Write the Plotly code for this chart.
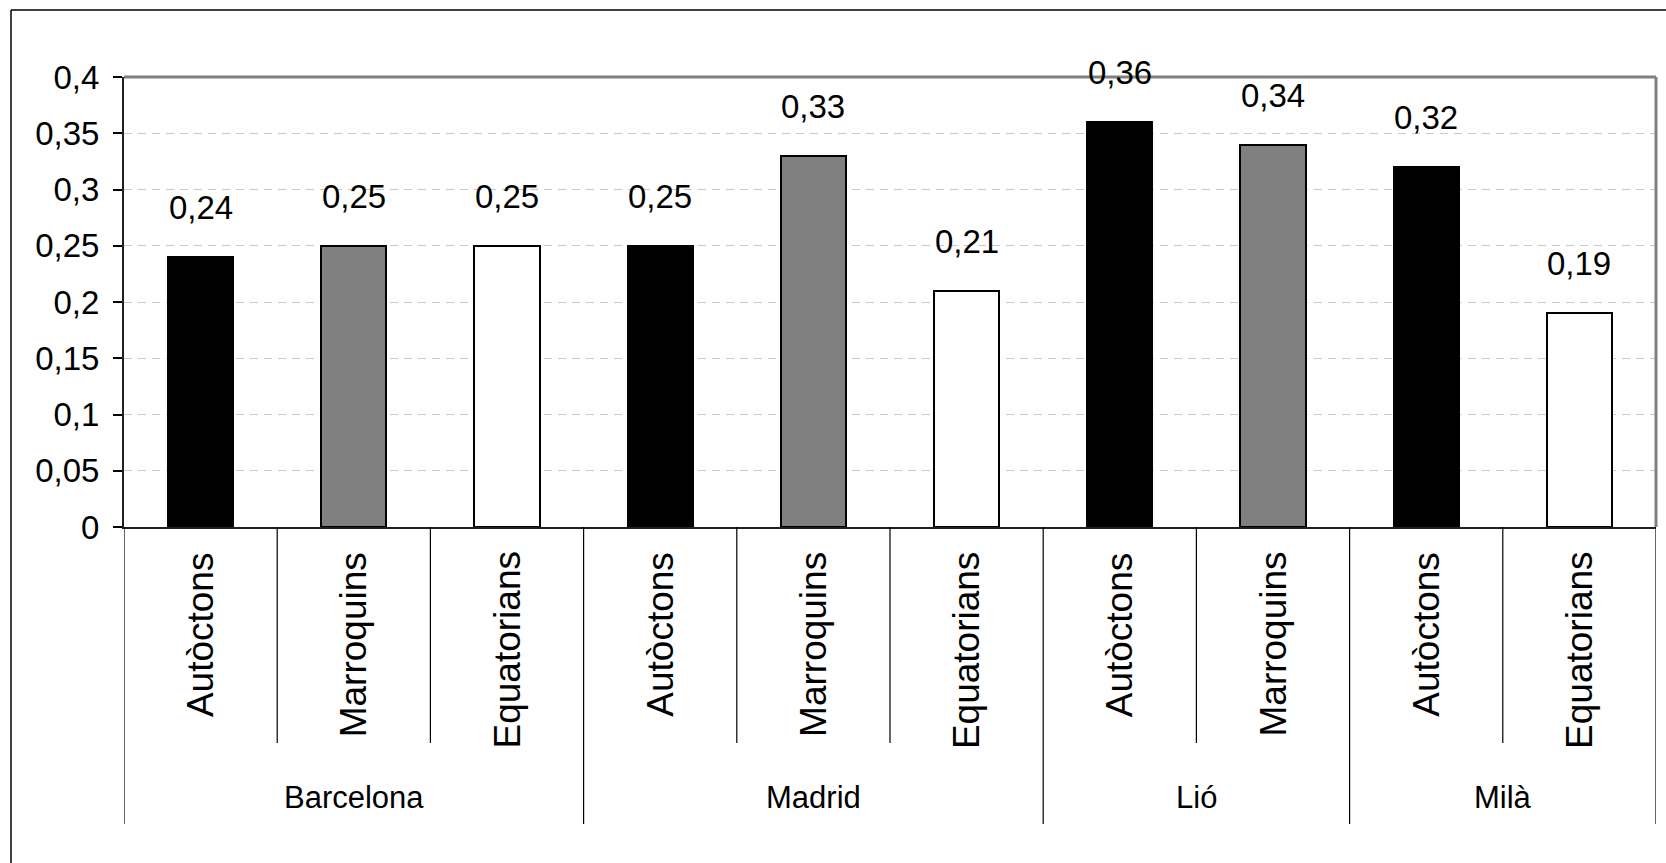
import plotly.graph_objects as go

# ---- data ----
groups = ["Barcelona", "Barcelona", "Barcelona", "Madrid", "Madrid", "Madrid",
          "Lió", "Lió", "Milà", "Milà"]
categories = ["Autòctons", "Marroquins", "Equatorians",
              "Autòctons", "Marroquins", "Equatorians",
              "Autòctons", "Marroquins",
              "Autòctons", "Equatorians"]
values = [0.24, 0.25, 0.25, 0.25, 0.33, 0.21, 0.36, 0.34, 0.32, 0.19]
y_ticks = [0, 0.05, 0.1, 0.15, 0.2, 0.25, 0.3, 0.35, 0.4]
y_tick_labels = ["0", "0,05", "0,1", "0,15", "0,2", "0,25", "0,3", "0,35", "0,4"]

# ---- styles ----
cat_colors = {"Autòctons": "#000000", "Marroquins": "#808080", "Equatorians": "#ffffff"}
FONT = "Liberation Sans, Arial, sans-serif"

W, H = 1666, 863
L, R, T, B = 124, 10, 77, 336
plot_w = W - L - R
plot_h = H - T - B


def py(pix):  # pixel y -> paper y
    return (H - B - pix) / plot_h


def px(pix):  # pixel x -> paper x
    return (pix - L) / plot_w


n = len(categories)
xs = list(range(n))

fig = go.Figure()
fig.add_trace(go.Bar(
    x=xs, y=values, width=0.425,
    marker=dict(color=[cat_colors[c] for c in categories],
                line=dict(color="#000000", width=2)),
    hoverinfo="skip", showlegend=False,
))

annotations = []
# data labels
for i, v in enumerate(values):
    annotations.append(dict(
        x=i, y=v, xref="x", yref="y", text=f"{v:.2f}".replace(".", ","),
        showarrow=False, yanchor="bottom", xanchor="center", yshift=29,
        font=dict(family=FONT, size=33, color="#000000")))

# category labels (rotated)
for i, c in enumerate(categories):
    annotations.append(dict(
        x=i, y=py(550), xref="x", yref="paper", text=c, textangle=-90,
        showarrow=False, yanchor="top", xanchor="center",
        font=dict(family=FONT, size=37, color="#000000")))

# group labels and divider lines
shapes = []
start = 0
group_spans = []
for i in range(1, n + 1):
    if i == n or groups[i] != groups[i - 1]:
        group_spans.append((groups[start], start, i - 1))
        start = i
for name, a, b in group_spans:
    annotations.append(dict(
        x=(a + b) / 2, y=py(797), xref="x", yref="paper", text=name,
        showarrow=False, yanchor="middle", xanchor="center",
        font=dict(family=FONT, size=31, color="#000000")))

for i in range(n + 1):
    is_group = i == 0 or i == n or groups[i] != groups[i - 1]
    bottom = py(824) if is_group else py(743)
    shapes.append(dict(type="line", xref="x", yref="paper",
                       x0=i - 0.5, x1=i - 0.5, y0=0, y1=bottom,
                       line=dict(color="#000000", width=1.2)))

# plot-area top and right border (gray)
shapes.append(dict(type="line", xref="paper", yref="paper", x0=0, x1=1, y0=1, y1=1,
                   line=dict(color="#808080", width=3)))
shapes.append(dict(type="line", xref="paper", yref="paper", x0=1, x1=1, y0=0, y1=1,
                   line=dict(color="#808080", width=3)))
# outer chart border (left & top visible)
shapes.append(dict(type="line", xref="paper", yref="paper",
                   x0=px(11), x1=px(1700), y0=py(10), y1=py(10),
                   line=dict(color="#000000", width=1.5)))
shapes.append(dict(type="line", xref="paper", yref="paper",
                   x0=px(11), x1=px(11), y0=py(10), y1=py(900),
                   line=dict(color="#000000", width=1.5)))

fig.update_layout(
    width=W, height=H,
    margin=dict(l=L, r=R, t=T, b=B),
    paper_bgcolor="#ffffff", plot_bgcolor="#ffffff",
    bargap=0,
    annotations=annotations,
    shapes=shapes,
    xaxis=dict(range=[-0.5, n - 0.5], showticklabels=False, ticks="",
               showgrid=False, zeroline=False, showline=True,
               linecolor="#202020", linewidth=2, fixedrange=True),
    yaxis=dict(range=[0, 0.4], tickvals=y_ticks, ticktext=y_tick_labels,
               ticks="outside", ticklen=9, tickcolor="#000000", tickwidth=1.5,
               ticklabelstandoff=7,
               tickfont=dict(family=FONT, size=33, color="#000000"),
               showgrid=True, gridcolor="#c8c8c8", gridwidth=1, griddash="8px,6px",
               zeroline=False, showline=True, linecolor="#202020", linewidth=2,
               fixedrange=True),
)

fig.write_html("out.html", config={"displayModeBar": False},
               post_script="document.body.style.margin='0';document.body.style.overflow='hidden';")
